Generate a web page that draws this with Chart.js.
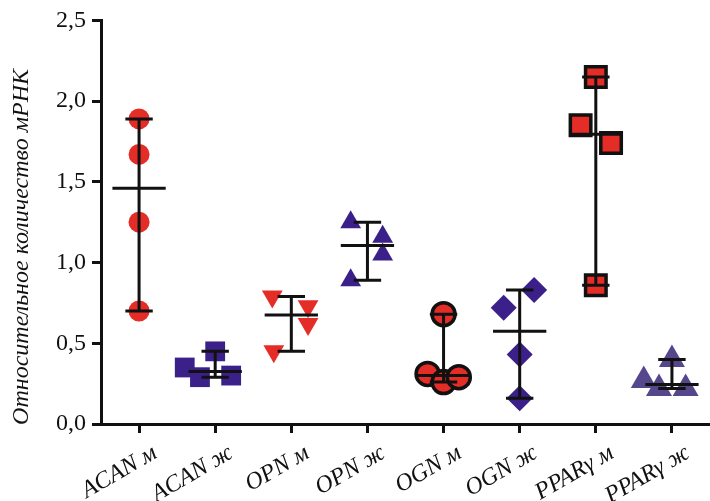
<!DOCTYPE html>
<html>
<head>
<meta charset="utf-8">
<script src="https://cdn.jsdelivr.net/npm/chart.js@4/dist/chart.umd.min.js"></script>
<style>
html,body{margin:0;padding:0;background:#fff;}
#wrap{width:710px;height:501px;position:relative;}
</style>
</head>
<body>
<div id="wrap"><canvas id="c" width="710" height="501"></canvas></div>
<script>
// ---- data ----
const categories = ['ACAN м', 'ACAN ж', 'OPN м', 'OPN ж', 'OGN м', 'OGN ж', 'PPARγ м', 'PPARγ ж'];
const yTicks = [0, 0.5, 1.0, 1.5, 2.0, 2.5];
const yTitle = 'Относительное количество мРНК';

const acanM = [1.89, 1.67, 1.25, 0.70];
const acanF = [0.45, 0.35, 0.29, 0.30];
const opnM  = [0.79, 0.73, 0.62, 0.45];
const opnF  = [1.25, 1.16, 1.05, 0.89];
const ognM  = [0.68, 0.31, 0.26, 0.29];
const ognF  = [0.83, 0.72, 0.43, 0.16];
const pparM = [2.15, 1.85, 1.74, 0.86];
const pparF = [0.40, 0.27, 0.22, 0.22];

// horizontal scatter (jitter) of each point, in category units
const acanMJit = [0, 0, 0, 0];
const acanFJit = [0, -0.40, -0.20, 0.21];
const opnMJit  = [-0.25, 0.22, 0.22, -0.23];
const opnFJit  = [-0.22, 0.20, 0.20, -0.22];
const ognMJit  = [0, -0.21, 0, 0.20];
const ognFJit  = [0.19, -0.21, 0, 0];
const pparMJit = [0, -0.20, 0.20, 0];
const pparFJit = [0, -0.37, -0.17, 0.18];

const groups = [acanM, acanF, opnM, opnF, ognM, ognF, pparM, pparF];
const jitters = [acanMJit, acanFJit, opnMJit, opnFJit, ognMJit, ognFJit, pparMJit, pparFJit];

// ---- styles ----
const SERIF = '"Liberation Serif", "Times New Roman", Times, serif';
const RED = '#e52d28';
const PURPLE = '#3b2089';
const LPURPLE = '#56478d';
const styles = [
  {pointStyle:'circle',   radius:10.5, bg:RED,     bc:RED,     bw:0, rot:0},
  {pointStyle:'rect',     radius:14,   bg:PURPLE,  bc:PURPLE,  bw:0, rot:0},
  {pointStyle:'triangle', radius:12,   bg:RED,     bc:RED,     bw:0, rot:180},
  {pointStyle:'triangle', radius:12,   bg:PURPLE,  bc:PURPLE,  bw:0, rot:0},
  {pointStyle:'circle',   radius:11.5, bg:RED,     bc:'#111',  bw:3.5, rot:0},
  {pointStyle:'rectRot',  radius:13,   bg:PURPLE,  bc:PURPLE,  bw:0, rot:0},
  {pointStyle:'rect',     radius:14.5, bg:RED,     bc:'#111',  bw:3.5, rot:0},
  {pointStyle:'triangle', radius:15,   bg:LPURPLE, bc:LPURPLE, bw:0, rot:0}
];

const datasets = groups.map((vals, gi) => {
  const s = styles[gi];
  return {
    label: categories[gi],
    data: vals.map((v, k) => ({x: gi + jitters[gi][k], y: v})),
    pointStyle: s.pointStyle,
    pointRadius: s.radius,
    pointHoverRadius: s.radius,
    pointRotation: s.rot,
    backgroundColor: s.bg,
    borderColor: s.bc,
    borderWidth: s.bw,
    showLine: false,
    clip: false
  };
});

function median(a) {
  const s = a.slice().sort((p, q) => p - q);
  const m = Math.floor(s.length / 2);
  return s.length % 2 ? s[m] : (s[m - 1] + s[m]) / 2;
}

const whiskerPlugin = {
  id: 'whiskers',
  afterDatasetsDraw(chart) {
    const ctx = chart.ctx;
    const xs = chart.scales.x, ys = chart.scales.y;
    ctx.save();
    ctx.strokeStyle = '#111';
    ctx.lineWidth = 3;
    ctx.lineCap = 'butt';
    groups.forEach((vals, gi) => {
      const mn = Math.min(...vals), mx = Math.max(...vals), md = median(vals);
      const xc = xs.getPixelForValue(gi);
      const capL = xs.getPixelForValue(gi - 0.18), capR = xs.getPixelForValue(gi + 0.18);
      const medL = xs.getPixelForValue(gi - 0.35), medR = xs.getPixelForValue(gi + 0.35);
      ctx.beginPath();
      ctx.moveTo(xc, ys.getPixelForValue(mx));
      ctx.lineTo(xc, ys.getPixelForValue(mn));
      ctx.moveTo(capL, ys.getPixelForValue(mx));
      ctx.lineTo(capR, ys.getPixelForValue(mx));
      ctx.moveTo(capL, ys.getPixelForValue(mn));
      ctx.lineTo(capR, ys.getPixelForValue(mn));
      ctx.moveTo(medL, ys.getPixelForValue(md));
      ctx.lineTo(medR, ys.getPixelForValue(md));
      ctx.stroke();
    });
    ctx.restore();
  }
};

const yTitlePlugin = {
  id: 'ytitle',
  afterDraw(chart) {
    const ctx = chart.ctx;
    ctx.save();
    ctx.translate(22, 247);
    ctx.rotate(-Math.PI / 2);
    ctx.font = 'italic 24px ' + SERIF;
    ctx.fillStyle = '#111';
    ctx.textAlign = 'center';
    ctx.textBaseline = 'middle';
    ctx.fillText(yTitle, 0, 0);
    ctx.restore();
  }
};

new Chart(document.getElementById('c'), {
  type: 'scatter',
  data: {datasets},
  plugins: [whiskerPlugin, yTitlePlugin],
  options: {
    responsive: false,
    animation: false,
    devicePixelRatio: 1,
    layout: {autoPadding: false, padding: {top: 19, right: 0, bottom: 0, left: 0}},
    plugins: {legend: {display: false}, tooltip: {enabled: false}},
    scales: {
      x: {
        type: 'linear',
        min: -0.5,
        max: categories.length - 0.5,
        afterBuildTicks(scale) { scale.ticks = categories.map((c, i) => ({value: i})); },
        afterFit(scale) { scale.height = 77; scale.paddingRight = 0; scale.paddingLeft = 0; },
        border: {display: true, color: '#111', width: 3},
        grid: {display: true, drawOnChartArea: false, drawTicks: true, tickLength: 9, tickWidth: 3, tickColor: '#111', color: '#111'},
        ticks: {
          autoSkip: false,
          minRotation: 30,
          maxRotation: 30,
          padding: 6,
          labelOffset: 16,
          color: '#111',
          font: {family: SERIF, size: 24, style: 'italic'},
          callback: (v) => categories[Math.round(v)]
        }
      },
      y: {
        min: 0,
        max: 2.5,
        afterBuildTicks(scale) { scale.ticks = yTicks.map(v => ({value: v})); },
        afterFit(scale) { scale.width = 101; },
        border: {display: true, color: '#111', width: 3},
        grid: {display: true, drawOnChartArea: false, drawTicks: true, tickLength: 9, tickWidth: 3, tickColor: '#111', color: '#111'},
        ticks: {
          padding: 6,
          color: '#111',
          font: {family: SERIF, size: 24},
          callback: (v) => v.toFixed(1).replace('.', ',')
        }
      }
    }
  }
});
</script>
</body>
</html>
